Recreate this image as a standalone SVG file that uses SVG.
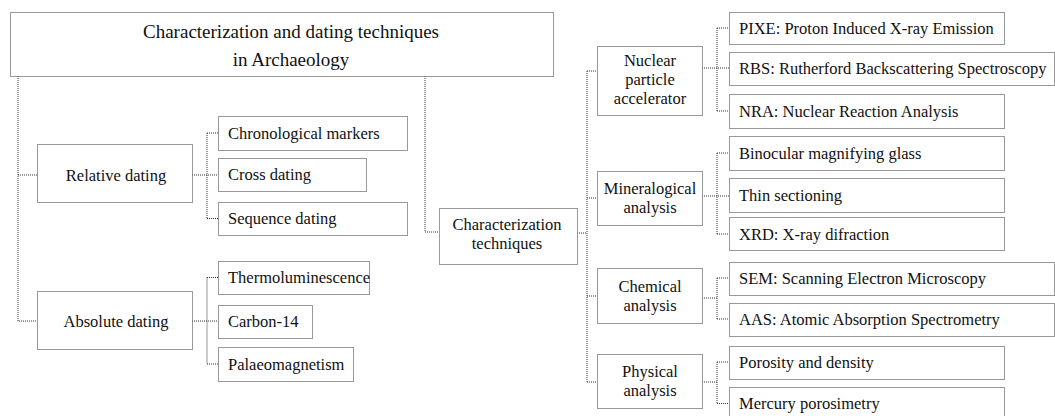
<svg xmlns="http://www.w3.org/2000/svg" width="1055" height="416" viewBox="0 0 1055 416">
<style>
.b{fill:#fff;stroke:#333;stroke-width:1;stroke-dasharray:1,1}
.c{fill:none;stroke:#333;stroke-width:1;stroke-dasharray:1,1}
text{font-family:"Liberation Serif","Times New Roman",serif;font-size:16.5px;fill:#111}
.m{text-anchor:middle}
.t{font-size:19px}
</style>
<rect width="1055" height="416" fill="#fff"/>
<g id="connectors">
<path class="c" d="M18 76V321H37M18 175H37"/>
<path class="c" d="M192 175H218M207 133V218.5M207 133H218M207 218.5H218"/>
<path class="c" d="M192 321H218M207 277.5V364M207 277.5H218M207 364H218"/>
<path class="c" d="M425 76V232H439"/>
<path class="c" d="M577 233H587M587 71V382M587 71H597M587 198H597M587 296H597M587 382H597"/>
<path class="c" d="M702 68H729M717 28V111M717 28H729M717 111H729"/>
<path class="c" d="M702 196H729M717 153V234M717 153H729M717 234H729"/>
<path class="c" d="M702 298H717M717 278V319M717 278H729M717 319H729"/>
<path class="c" d="M702 382H717M717 362V403.5M717 362H729M717 403.5H729"/>
</g>
<g id="title"><rect class="b" x="10.5" y="12.5" width="543" height="64"/>
<text class="m t" x="291" y="38">Characterization and dating techniques</text>
<text class="m t" x="291" y="66">in Archaeology</text></g>
<g id="relative"><rect class="b" x="37.5" y="144.5" width="155" height="58"/><text class="m" x="116" y="181">Relative dating</text></g>
<g id="chrono"><rect class="b" x="218.5" y="116.5" width="189" height="34"/><text x="228" y="138.5">Chronological markers</text></g>
<g id="cross"><rect class="b" x="218.5" y="158.5" width="148" height="33"/><text x="228" y="180">Cross dating</text></g>
<g id="sequence"><rect class="b" x="218.5" y="202.5" width="189" height="33"/><text x="228" y="224">Sequence dating</text></g>
<g id="absolute"><rect class="b" x="37.5" y="291.5" width="155" height="58"/><text class="m" x="116" y="327">Absolute dating</text></g>
<g id="thermo"><rect class="b" x="218.5" y="261.5" width="151" height="33"/><text x="228" y="283">Thermoluminescence</text></g>
<g id="carbon"><rect class="b" x="218.5" y="305.5" width="94" height="33"/><text x="228" y="327">Carbon-14</text></g>
<g id="palaeo"><rect class="b" x="218.5" y="347.5" width="135" height="34"/><text x="228" y="369.5">Palaeomagnetism</text></g>
<g id="charact"><rect class="b" x="439.5" y="208.5" width="138" height="56"/><text class="m" x="507" y="230">Characterization</text><text class="m" x="507" y="249">techniques</text></g>
<g id="nuclear"><rect class="b" x="597.5" y="46.5" width="105" height="69"/><text class="m" x="650" y="66">Nuclear</text><text class="m" x="650" y="85">particle</text><text class="m" x="650" y="104">accelerator</text></g>
<g id="pixe"><rect class="b" x="729.5" y="12.5" width="275" height="32"/><text x="739" y="33.5">PIXE: Proton Induced X-ray Emission</text></g>
<g id="rbs"><rect class="b" x="729.5" y="52.5" width="325" height="33"/><text x="739" y="74">RBS: Rutherford Backscattering Spectroscopy</text></g>
<g id="nra"><rect class="b" x="729.5" y="94.5" width="275" height="34"/><text x="739" y="116.5">NRA: Nuclear Reaction Analysis</text></g>
<g id="mineral"><rect class="b" x="597.5" y="171.5" width="105" height="54"/><text class="m" x="650" y="194">Mineralogical</text><text class="m" x="650" y="213">analysis</text></g>
<g id="binocular"><rect class="b" x="729.5" y="136.5" width="275" height="34"/><text x="739" y="158.5">Binocular magnifying glass</text></g>
<g id="thin"><rect class="b" x="729.5" y="178.5" width="275" height="34"/><text x="739" y="200.5">Thin sectioning</text></g>
<g id="xrd"><rect class="b" x="729.5" y="217.5" width="275" height="33"/><text x="739" y="239.5">XRD: X-ray difraction</text></g>
<g id="chemical"><rect class="b" x="597.5" y="268.5" width="105" height="55"/><text class="m" x="650" y="291.5">Chemical</text><text class="m" x="650" y="310.5">analysis</text></g>
<g id="sem"><rect class="b" x="729.5" y="262.5" width="325" height="33"/><text x="739" y="284">SEM: Scanning Electron Microscopy</text></g>
<g id="aas"><rect class="b" x="729.5" y="303.5" width="325" height="33"/><text x="739" y="325">AAS: Atomic Absorption Spectrometry</text></g>
<g id="physical"><rect class="b" x="597.5" y="354.5" width="105" height="54"/><text class="m" x="650" y="377">Physical</text><text class="m" x="650" y="395.5">analysis</text></g>
<g id="porosity"><rect class="b" x="729.5" y="346.5" width="275" height="33"/><text x="739" y="368">Porosity and density</text></g>
<g id="mercury"><rect class="b" x="729.5" y="387.5" width="275" height="33"/><text x="739" y="409">Mercury porosimetry</text></g>
</svg>
